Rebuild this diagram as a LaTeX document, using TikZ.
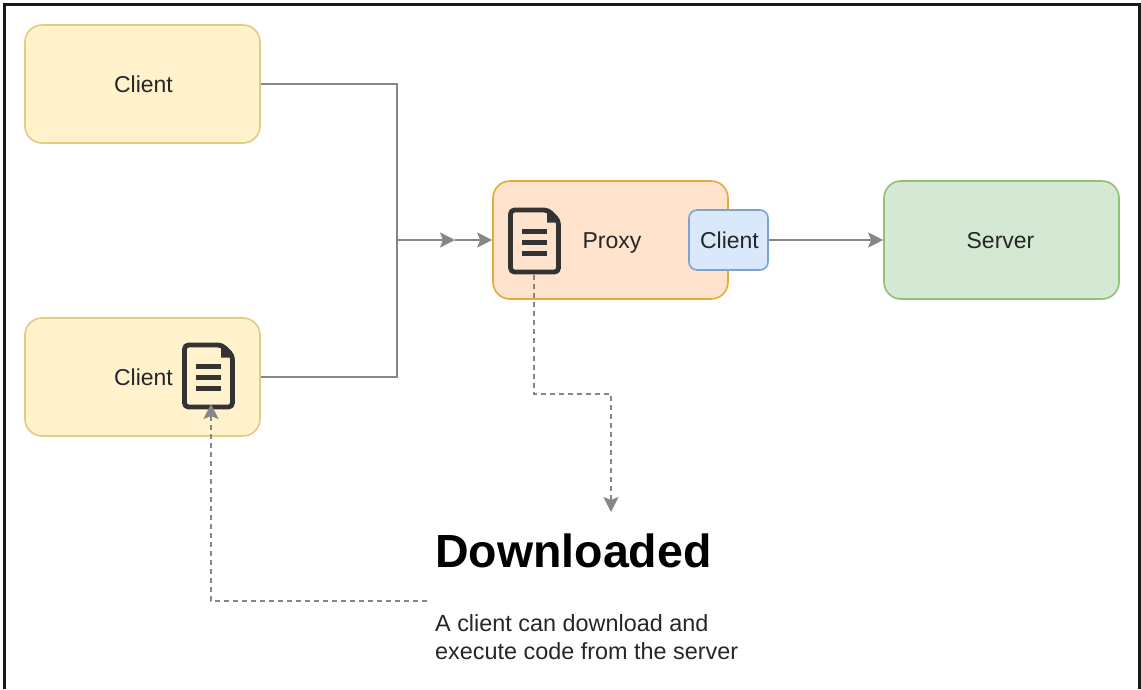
\documentclass[tikz,border=0pt]{standalone}
\usepackage{fontspec}
\setmainfont{Liberation Sans}
\usetikzlibrary{arrows.meta}
\definecolor{clientfill}{HTML}{FFF2CC}
\definecolor{clientline}{HTML}{E3CC80}
\definecolor{proxyfill}{HTML}{FFE3CC}
\definecolor{proxyline}{HTML}{E2AC3A}
\definecolor{serverfill}{HTML}{D5E8D4}
\definecolor{serverline}{HTML}{93BF7C}
\definecolor{innerfill}{HTML}{DAE8FC}
\definecolor{innerline}{HTML}{7FA2CF}
\definecolor{wire}{HTML}{868686}
\definecolor{ink}{HTML}{333333}
\tikzset{
  bigbox/.style={draw,line width=1.6pt,rounded corners=17pt,minimum width=235pt,minimum height=118pt,inner sep=0pt},
  label/.style={font=\fontsize{23}{27}\selectfont,text=black!85,inner sep=0pt,anchor=base},
  plainwire/.style={draw=wire,line width=2pt},
  wireline/.style={plainwire,-{Stealth[length=15pt,width=15pt,inset=3pt]}},
  dashline/.style={draw=wire,line width=1.2pt,dash pattern=on 5pt off 4pt,-{Stealth[length=15pt,width=15pt,inset=3pt]}},
  docicon/.pic={
    \coordinate (-bot) at (26,67);
    \draw[ink,line width=4.8pt,line join=round,rounded corners=4pt] (2.5,2.5) -- (40,2.5) -- (50.5,13) -- (50.5,64.5) -- (2.5,64.5) -- cycle;
    \fill[ink] (39,2) -- (52,15) -- (39,15) -- cycle;
    \foreach \liney in {23.5,34.5,45.5}
      \draw[ink,line width=5pt] (14,\liney) -- (39,\liney);
  }
}
\begin{document}
\begin{tikzpicture}[x=1pt,y=-1pt]
  \useasboundingbox (0,0) rectangle (1141,689);
  \fill[white] (0,0) rectangle (1141,689);
  % frame, open at the bottom
  \draw[black!90,line width=3pt] (4.5,689) -- (4.5,4) -- (1139.5,4) -- (1139.5,689);

  \node[bigbox,draw=clientline,fill=clientfill] (clienttop) at (142.5,84) {};
  \node[bigbox,draw=clientline,fill=clientfill] (clientbot) at (142.5,377) {};
  \node[bigbox,draw=proxyline,fill=proxyfill] (proxy) at (610.5,240) {};
  \node[bigbox,draw=serverline,fill=serverfill] (server) at (1001.5,240) {};
  \node[draw=innerline,fill=innerfill,line width=1.6pt,rounded corners=8pt,
    minimum width=79pt,minimum height=60pt,inner sep=0pt] (inner) at (728.5,240) {};

  \node[label] (clienttoptext) at (143.5,92) {Client};
  \node[label] (clientbottext) at (143.5,385) {Client};
  \node[label] (proxytext) at (612,248) {Proxy};
  \node[label] (innertext) at (729.5,248) {Client};
  \node[label] (servertext) at (1000.5,248) {Server};

  \pic (proxydoc) at (508,207.5) {docicon};
  \pic (clientdoc) at (182,342.5) {docicon};

  \coordinate (join) at (397,240);
  \coordinate (jointip) at (455,240);
  \coordinate (proxydrop) at (611,512);
  \coordinate (textend) at (427,601);
  \coordinate (clientdoctip) at (211,404);

  \draw[plainwire] (clienttop.east) -| (join);
  \draw[plainwire] (clientbot.east) -| (join);
  \draw[wireline] (join) -- (jointip);
  \draw[wireline] (jointip) -- (proxy.west);
  \draw[wireline] (inner.east) -- (server.west);

  \draw[dashline] (proxydoc-bot) -- (534,394) -- (611,394) -- (proxydrop);
  \draw[dashline] (textend) -| (clientdoctip);

  \node[anchor=base west,inner sep=0pt,font=\fontsize{46.5}{50}\selectfont\bfseries,text=black] (title) at (435,567) {Downloaded};
  \node[anchor=base west,inner sep=0pt,font=\fontsize{23.4}{27}\selectfont,text=black!85] (bodyone) at (435,631) {A client can download and};
  \node[anchor=base west,inner sep=0pt,font=\fontsize{23.4}{27}\selectfont,text=black!85] (bodytwo) at (435,659) {execute code from the server};
\end{tikzpicture}
\end{document}
